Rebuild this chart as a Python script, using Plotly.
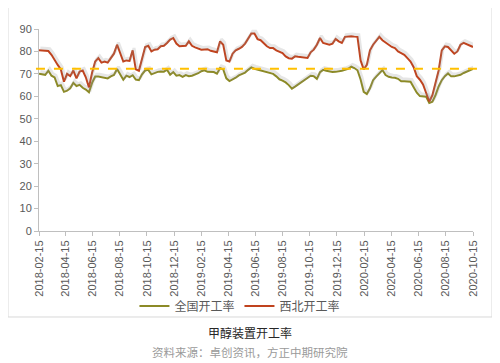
import pandas as pd
import plotly.graph_objects as go

# weekly observation dates
start_date = "2018-02-15"
n_weeks = 140
dates = pd.date_range(start_date, periods=n_weeks, freq="7D")

national = [
    70.1, 69.8, 69.6, 71.4, 69.2, 68.4, 64.6, 65.0, 62.0, 62.5,
    63.6, 66.0, 64.6, 65.1, 63.8, 63.0, 61.8, 66.0, 68.8, 68.8,
    68.5, 68.5, 68.0, 68.9, 69.5, 72.2, 69.6, 67.4, 69.2, 68.6,
    69.4, 67.5, 67.2, 69.8, 71.5, 71.8, 69.8, 70.5, 70.9, 71.1,
    71.0, 71.9, 69.6, 70.8, 69.2, 69.5, 68.7, 69.5, 69.0, 69.2,
    69.6, 70.3, 71.2, 71.6, 70.9, 70.8, 70.8, 70.1, 72.6, 72.0,
    68.0, 66.8, 67.4, 68.3, 69.3, 69.8, 70.6, 71.8, 72.9, 72.3,
    71.9, 71.8, 71.3, 70.9, 70.4, 70.0, 68.9, 67.6, 67.0, 66.2,
    65.0, 63.4, 64.3, 65.3, 66.2, 67.0, 68.0, 69.2, 69.0, 67.8,
    70.8, 71.8, 71.4, 71.0, 70.8, 70.9, 71.0, 71.4, 71.8, 72.3,
    73.2, 72.6, 71.6, 67.5, 62.0, 61.0, 63.6, 67.2, 68.8, 70.2,
    71.7, 69.5, 68.7, 68.4, 68.3, 67.8, 66.7, 66.7, 66.7, 66.5,
    64.0, 61.6, 60.1, 60.0, 59.8, 57.0, 57.6, 60.5, 64.4, 67.2,
    69.0, 70.2, 68.9, 68.9, 69.3, 69.6, 70.4, 70.9, 71.5, 72.2,
]

northwest = [
    80.5, 80.5, 80.4, 80.2, 78.5, 76.0, 74.0, 72.0, 66.5, 70.0,
    69.0, 71.5, 68.0, 71.0, 71.5, 68.5, 64.0, 70.5, 75.5, 77.0,
    75.0, 75.5, 75.0, 77.0, 79.0, 83.0, 79.5, 75.5, 76.0, 75.8,
    80.5, 72.0, 71.4, 77.0, 82.0, 82.5, 80.0, 80.8, 81.0, 82.3,
    82.5, 83.8, 85.3, 86.0, 83.5, 82.3, 82.3, 82.5, 84.5, 82.5,
    81.8, 81.3, 80.8, 80.9, 81.0, 80.3, 80.0, 79.6, 84.5, 83.0,
    76.0, 75.5, 79.0, 80.5, 81.2, 82.0, 83.5, 86.0, 88.0, 88.0,
    85.5, 85.0, 83.5, 82.3, 81.5, 81.5, 80.5, 80.0, 79.3, 77.8,
    77.0, 76.8, 77.8, 77.6, 77.5, 77.3, 77.1, 79.6, 80.8, 83.0,
    86.0, 83.8, 83.3, 83.0, 83.5, 85.6, 84.5, 83.8, 86.5, 86.8,
    86.8, 86.6, 86.5, 76.0, 72.0, 74.0, 80.5, 83.0, 84.8, 86.5,
    85.0, 84.0, 83.0, 82.0, 81.5, 80.0, 79.3, 78.5, 77.0, 75.5,
    73.0, 69.0, 67.4, 65.3, 61.5, 57.7, 60.5, 65.5, 71.5, 80.5,
    82.3, 82.0, 80.5, 79.0, 80.0, 83.0, 83.8, 83.3, 82.5, 82.0,
]

reference_level = 72.3

tick_labels = [
    "2018-02-15", "2018-04-15", "2018-06-15", "2018-08-15", "2018-10-15",
    "2018-12-15", "2019-02-15", "2019-04-15", "2019-06-15", "2019-08-15",
    "2019-10-15", "2019-12-15", "2020-02-15", "2020-04-15", "2020-06-15",
    "2020-08-15", "2020-10-15",
]

series_names = ["全国开工率", "西北开工率"]
title_text = "甲醇装置开工率"
source_text = "资料来源：卓创资讯，方正中期研究院"

C_NAT = "#8C8A26"
C_NW = "#C0431E"
C_REF = "#FFC000"
AXIS_GREY = "#BFBFBF"
TXT = "#595959"
LATIN = "Liberation Sans, Arial, sans-serif"
CJK = "Noto Sans CJK SC, sans-serif"

fig = go.Figure()

# soft drop shadows (drawn on slightly offset overlay axes)
for vals in (national, northwest):
    fig.add_trace(go.Scatter(
        x=dates, y=vals, mode="lines", xaxis="x2", yaxis="y2",
        line=dict(color="rgba(140,140,140,0.22)", width=3),
        showlegend=False, hoverinfo="skip",
    ))

fig.add_trace(go.Scatter(
    x=dates, y=national, mode="lines", name=series_names[0],
    line=dict(color=C_NAT, width=2),
))
fig.add_trace(go.Scatter(
    x=dates, y=northwest, mode="lines", name=series_names[1],
    line=dict(color=C_NW, width=2),
))

# dashed reference level
fig.add_shape(type="line", xref="paper", yref="y",
              x0=-0.007, x1=1.018, y0=reference_level, y1=reference_level,
              line=dict(color=C_REF, width=2, dash="dash"))

# outer chart frame
fig.add_shape(type="rect", xref="paper", yref="paper",
              x0=-0.0714, x1=1.0438, y0=-0.4257, y1=1.1238,
              line=dict(color="#D9D9D9", width=1), fillcolor="rgba(0,0,0,0)",
              layer="below")

x0 = pd.Timestamp(tick_labels[0])
x1 = pd.Timestamp(tick_labels[-1])
shift = pd.Timedelta(days=3)

fig.update_layout(
    width=492, height=355,
    margin=dict(l=31, r=27, t=21, b=132),
    paper_bgcolor="white", plot_bgcolor="white",
    showlegend=True,
    legend=dict(orientation="h", x=0.463, xanchor="center", y=-0.371, yanchor="middle",
                font=dict(family=CJK, size=12, color=TXT),
                itemwidth=30, tracegroupgap=0, bgcolor="rgba(0,0,0,0)"),
    xaxis=dict(
        type="date", range=[x0, x1],
        tickmode="array", tickvals=tick_labels, ticktext=tick_labels,
        tickangle=-90, tickfont=dict(family=LATIN, size=11, color=TXT),
        showgrid=False, zeroline=False,
        showline=True, linecolor=AXIS_GREY, linewidth=1,
        ticks="outside", ticklen=4, tickcolor=AXIS_GREY,
    ),
    yaxis=dict(
        range=[0, 90], tickvals=[0, 10, 20, 30, 40, 50, 60, 70, 80, 90],
        tickfont=dict(family=LATIN, size=11, color=TXT),
        showgrid=False, zeroline=False,
        showline=True, linecolor=AXIS_GREY, linewidth=1,
        ticks="outside", ticklen=4, tickcolor=AXIS_GREY,
    ),
    xaxis2=dict(type="date", range=[x0 - shift, x1 - shift], overlaying="x",
                visible=False),
    yaxis2=dict(range=[-1.0, 89.0], overlaying="y", visible=False),
    annotations=[
        dict(text=title_text, xref="paper", yref="paper",
             x=(250 - 39) / 434, y=(231 - 332) / 202, xanchor="center", yanchor="middle",
             showarrow=False, font=dict(family=CJK, size=12, color="#262626")),
        dict(text=source_text, xref="paper", yref="paper",
             x=(250 - 39) / 434, y=(231 - 352) / 202, xanchor="center", yanchor="middle",
             showarrow=False, font=dict(family=CJK, size=11.5, color="#9A9A9A")),
    ],
)

fig.write_html("out.html")
